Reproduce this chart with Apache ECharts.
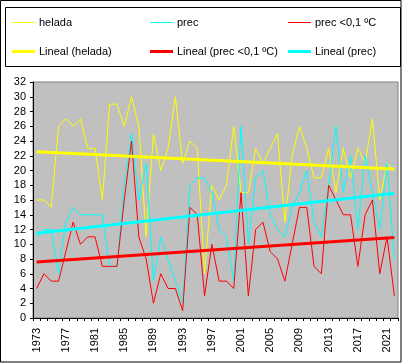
<!DOCTYPE html>
<html>
<head>
<meta charset="utf-8">
<script src="https://cdn.jsdelivr.net/npm/echarts@6/dist/echarts.min.js"></script>
<style>
html,body{margin:0;padding:0;background:#fff;}
#chart{width:402px;height:363px;}
</style>
</head>
<body>
<div id="chart"></div>
<script>
const years = ['1973','1974','1975','1976','1977','1978','1979','1980','1981','1982',
  '1983','1984','1985','1986','1987','1988','1989','1990','1991','1992',
  '1993','1994','1995','1996','1997','1998','1999','2000','2001','2002',
  '2003','2004','2005','2006','2007','2008','2009','2010','2011','2012',
  '2013','2014','2015','2016','2017','2018','2019','2020','2021','2022'];

const helada = [16,16,15,26,27,26,27,23,23,16,
  29,29,26,30,26,11,25,20,23,30,
  21,24,23,6,18,16,18,26,17,17,
  23,21,23,25,13,22,26,23,19,19,
  23,17,23,19,23,21,27,16,21,20];

const prec = [11,12,12,6,13,15,14,14,14,14,
  7,7,18,25,16,21,5,11,8,5,
  2,18,19,19,17,12,11,5,26,10,
  19,20,14,12,11,15,17,20,13,11,
  18,26,17,22,12,22,17,12,21,8];

const precBajo = [4,6,5,5,9,13,10,11,11,7,
  7,7,16,24,11,8,2,6,4,4,
  1,15,14,3,10,5,5,4,17,3,
  12,13,9,8,5,10,15,15,7,6,
  18,16,14,14,7,14,16,6,11,3];

// Trend line end values (first year, last year)
const trendHelada = [22.55, 20.2];
const trendPrecBajo = [7.6, 10.9];
const trendPrec = [11.5, 16.9];

const yTicks = {min: 0, max: 32, interval: 2};

const FONT = "'Liberation Sans', Arial, sans-serif";
const chart = echarts.init(document.getElementById('chart'));

function trend(vals) {
  return [[years[0], vals[0]], [years[years.length - 1], vals[1]]];
}

function legendItem(name, left, top, thick) {
  return {
    left: left,
    top: top,
    icon: 'rect',
    itemWidth: 23,
    itemHeight: thick ? 3 : 1,
    itemGap: 0,
    padding: 0,
    data: [name],
    textStyle: {fontFamily: FONT, fontSize: 11, color: '#000', padding: [0, 0, 0, -1]}
  };
}

const option = {
  animation: false,
  backgroundColor: '#fff',
  textStyle: {fontFamily: FONT},
  graphic: [
    {type: 'rect', shape: {x: 0.5, y: 0.5, width: 400.5, height: 361.5},
     style: {fill: 'none', stroke: '#000', lineWidth: 1}, silent: true, z: 0},
    {type: 'rect', shape: {x: 5.5, y: 7.5, width: 395, height: 59},
     style: {fill: 'none', stroke: '#000', lineWidth: 1}, silent: true, z: 0}
  ],
  legend: [
    legendItem('helada', 12, 17, false),
    legendItem('prec', 150, 17, false),
    legendItem('prec <0,1 ºC', 288, 17, false),
    legendItem('Lineal (helada)', 12, 46, true),
    legendItem('Lineal (prec <0,1 ºC)', 150, 46, true),
    legendItem('Lineal (prec)', 288, 46, true)
  ],
  grid: {
    left: 33, top: 82, right: 4, bottom: 45,
    show: true, backgroundColor: '#C0C0C0', borderColor: '#808080', borderWidth: 1
  },
  xAxis: {
    type: 'category',
    data: years,
    boundaryGap: true,
    axisLine: {lineStyle: {color: '#000', width: 1}},
    axisTick: {show: true, interval: 0, length: 3, lineStyle: {color: '#000'}},
    axisLabel: {interval: 3, rotate: 90, margin: 10, fontSize: 11, color: '#000', fontFamily: FONT},
    splitLine: {show: false}
  },
  yAxis: {
    type: 'value',
    min: yTicks.min, max: yTicks.max, interval: yTicks.interval,
    axisLine: {show: true, lineStyle: {color: '#000', width: 1}},
    axisTick: {show: true, length: 3, lineStyle: {color: '#000'}},
    axisLabel: {margin: 7, fontSize: 11, color: '#000', fontFamily: FONT},
    splitLine: {show: false}
  },
  series: [
    {name: 'helada', type: 'line', data: helada, symbol: 'none',
     lineStyle: {color: '#FFFF00', width: 1}, itemStyle: {color: '#FFFF00'}, z: 2},
    {name: 'prec', type: 'line', data: prec, symbol: 'none',
     lineStyle: {color: '#00FFFF', width: 1}, itemStyle: {color: '#00FFFF'}, z: 3},
    {name: 'prec <0,1 ºC', type: 'line', data: precBajo, symbol: 'none',
     lineStyle: {color: '#FF0000', width: 1}, itemStyle: {color: '#FF0000'}, z: 4},
    {name: 'Lineal (helada)', type: 'line', data: trend(trendHelada), symbol: 'none',
     lineStyle: {color: '#FFFF00', width: 3}, itemStyle: {color: '#FFFF00'}, z: 5},
    {name: 'Lineal (prec <0,1 ºC)', type: 'line', data: trend(trendPrecBajo), symbol: 'none',
     lineStyle: {color: '#FF0000', width: 3}, itemStyle: {color: '#FF0000'}, z: 5},
    {name: 'Lineal (prec)', type: 'line', data: trend(trendPrec), symbol: 'none',
     lineStyle: {color: '#00FFFF', width: 3}, itemStyle: {color: '#00FFFF'}, z: 5}
  ]
};
chart.setOption(option);
</script>
</body>
</html>
